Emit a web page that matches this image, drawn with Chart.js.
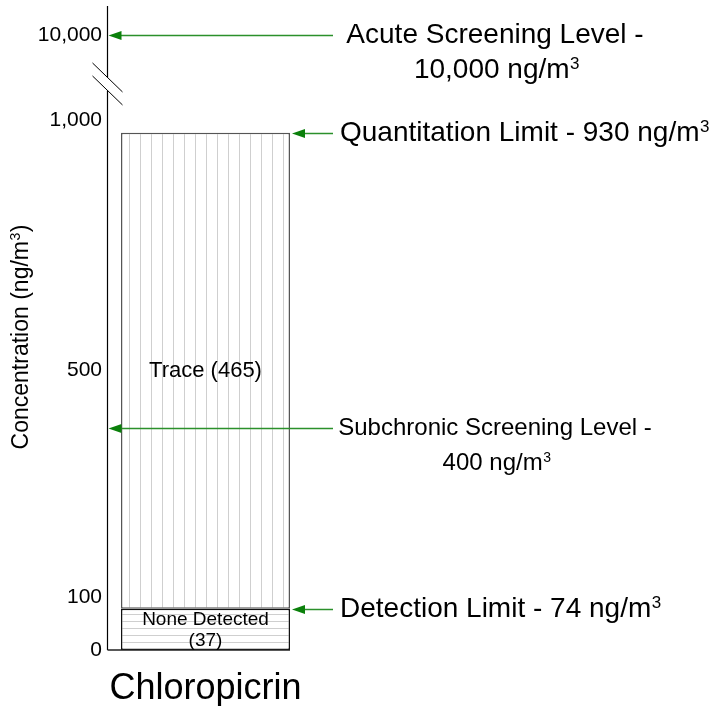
<!DOCTYPE html>
<html><head><meta charset="utf-8">
<script src="https://cdn.jsdelivr.net/npm/chart.js@4.4.1/dist/chart.umd.min.js"></script>
<style>html,body{margin:0;padding:0;background:#fff}#wrap{width:712px;height:706px}</style>
</head><body><div id="wrap"><canvas id="c" width="712" height="706"></canvas></div>
<script>
// ---- data ----
const categories = ['Chloropicrin'];
const segmentNames = ['None Detected', 'Trace'];
const segmentCounts = [37, 465];
const segmentRanges = [[0, 74], [74, 930]];           // ng/m3
const yTickLabels = ['0', '100', '500', '1,000', '10,000'];
const yTickValues = [0, 95, 503, 953, 1106];          // where labels sit on the schematic (broken) axis
const axisMax = 1158;
const yAxisTitle = ['Concentration (ng/m', '3', ')'];
const levelNames = ['Acute Screening Level', 'Quantitation Limit', 'Subchronic Screening Level', 'Detection Limit'];
const levelValues = [10000, 930, 400, 74];

const FONT = "'Liberation Sans', Arial, Helvetica, sans-serif";

function axisValue(v) {
  if (v > 1000) {
    const i = yTickLabels.indexOf(v.toLocaleString('en-US'));
    return yTickValues[i];
  }
  return v;
}

function makePattern(vertical) {
  const c = document.createElement('canvas');
  const p = c.getContext('2d');
  if (vertical) {
    c.width = 11; c.height = 11;
    p.fillStyle = '#fff'; p.fillRect(0, 0, 11, 11);
    p.fillStyle = '#cfcfcf'; p.fillRect(8, 0, 1, 11);
  } else {
    c.width = 7; c.height = 7;
    p.fillStyle = '#fff'; p.fillRect(0, 0, 7, 7);
    p.fillStyle = '#cfcfcf'; p.fillRect(0, 5, 7, 1);
  }
  return document.getElementById('c').getContext('2d').createPattern(c, 'repeat');
}

// draw "main" + superscript "sup" + optional "tail"
function drawSup(ctx, main, sup, x, y, size, align, tail) {
  tail = tail || '';
  const s2 = Math.round(size * 0.6);
  ctx.font = size + 'px ' + FONT;
  const w1 = ctx.measureText(main).width;
  const w3 = ctx.measureText(tail).width;
  ctx.font = s2 + 'px ' + FONT;
  const w2 = ctx.measureText(sup).width + 1;
  const total = w1 + w2 + w3;
  let x0 = x;
  if (align === 'center') x0 = x - total / 2;
  else if (align === 'right') x0 = x - total;
  ctx.textAlign = 'left';
  ctx.textBaseline = 'middle';
  ctx.font = size + 'px ' + FONT;
  ctx.fillText(main, x0, y);
  if (tail) ctx.fillText(tail, x0 + w1 + w2, y);
  ctx.font = s2 + 'px ' + FONT;
  ctx.fillText(sup, x0 + w1 + 0.5, y - size * 0.22);
}

const overlay = {
  id: 'overlay',
  afterDatasetsDraw(chart) {
    const { ctx, chartArea: a, scales: { y } } = chart;
    const axX = Math.round(y.right) + 0.5;
    const barMeta = chart.getDatasetMeta(1).data[0];
    const barR = barMeta.x + barMeta.width / 2;
    ctx.save();
    // y axis with break
    const brk = (y.getPixelForValue(yTickValues[3]) + y.getPixelForValue(yTickValues[4])) / 2 + 6.5;
    ctx.strokeStyle = '#000'; ctx.lineWidth = 1.2;
    ctx.beginPath();
    ctx.moveTo(axX, a.top); ctx.lineTo(axX, brk - 6.5);
    ctx.moveTo(axX, brk + 6.5); ctx.lineTo(axX, a.bottom);
    ctx.stroke();
    ctx.lineWidth = 1;
    ctx.beginPath();
    [-6.5, 6.5].forEach(o => {
      ctx.moveTo(axX - 15, brk + o - 14.5);
      ctx.lineTo(axX + 15, brk + o + 14.5);
    });
    ctx.stroke();
    // x axis baseline
    ctx.lineWidth = 1.5; ctx.strokeStyle = '#222';
    ctx.beginPath();
    ctx.moveTo(axX, a.bottom); ctx.lineTo(barR, a.bottom);
    ctx.stroke();

    // y axis title (rotated, with superscript)
    ctx.save();
    ctx.translate(21.5, (a.top + a.bottom) / 2 + 9);
    ctx.rotate(-Math.PI / 2);
    ctx.fillStyle = '#000';
    drawSup(ctx, yAxisTitle[0], yAxisTitle[1], 0, 0, 23, 'center', yAxisTitle[2]);
    ctx.restore();

    // segment labels
    ctx.fillStyle = '#000'; ctx.textAlign = 'center'; ctx.textBaseline = 'middle';
    segmentNames.forEach((n, i) => {
      const r = segmentRanges[i];
      const cy = y.getPixelForValue((r[0] + r[1]) / 2);
      const cx = barMeta.x;
      if (i === 0) {
        ctx.font = '19px ' + FONT;
        ctx.fillText(n, cx, cy - 10);
        ctx.fillText('(' + segmentCounts[i] + ')', cx, cy + 11);
      } else {
        ctx.font = '22px ' + FONT;
        ctx.fillText(n + ' (' + segmentCounts[i] + ')', cx, cy);
      }
    });

    // reference levels
    levelNames.forEach((n, i) => {
      const v = levelValues[i];
      const py = Math.round(y.getPixelForValue(axisValue(v))) + 0.5;
      const screening = n.indexOf('Screening') >= 0;
      const tipX = screening ? axX + 1 : barR + 2;
      const lineEnd = 333;
      ctx.strokeStyle = '#2b902b'; ctx.lineWidth = 1.5;
      ctx.beginPath(); ctx.moveTo(tipX + 10, py); ctx.lineTo(lineEnd, py); ctx.stroke();
      ctx.fillStyle = '#0b800b';
      ctx.beginPath();
      ctx.moveTo(tipX, py); ctx.lineTo(tipX + 13, py - 4.5); ctx.lineTo(tipX + 13, py + 4.5);
      ctx.closePath(); ctx.fill();
      ctx.fillStyle = '#000';
      const valTxt = v.toLocaleString('en-US') + ' ng/m';
      if (screening) {
        const size = n.length > 22 ? 24 : 28;
        ctx.font = size + 'px ' + FONT;
        ctx.textAlign = 'center'; ctx.textBaseline = 'middle';
        ctx.fillText(n + ' -', 495, py);
        drawSup(ctx, valTxt, '3', 497, py + 35, size, 'center');
      } else {
        drawSup(ctx, n + ' - ' + valTxt, '3', 340, py, 28, 'left');
      }
    });
    ctx.restore();
  }
};

const ctx = document.getElementById('c').getContext('2d');
new Chart(ctx, {
  type: 'bar',
  data: {
    labels: categories,
    datasets: segmentNames.map((n, i) => ({
      label: n,
      data: [segmentRanges[i]],
      backgroundColor: makePattern(i === 1),
      borderColor: i === 0 ? '#111' : '#555',
      borderWidth: 1.5,
      borderSkipped: false,
      grouped: false,
      barPercentage: 0.858,
      categoryPercentage: 1
    }))
  },
  options: {
    responsive: false,
    animation: false,
    devicePixelRatio: 1,
    layout: { padding: { top: 6, right: 408, left: 0, bottom: 0 } },
    plugins: { legend: { display: false }, tooltip: { enabled: false } },
    scales: {
      x: {
        grid: { display: false, drawTicks: false },
        border: { display: false },
        ticks: { font: { size: 36, family: FONT }, color: '#000', padding: 17, maxRotation: 0, minRotation: 0 },
        afterFit(s) { s.height = 56; s.paddingLeft = 0; s.paddingRight = 0; }
      },
      y: {
        min: 0, max: axisMax,
        grid: { display: false, drawTicks: false },
        border: { display: false },
        afterBuildTicks(s) { s.ticks = yTickValues.map(v => ({ value: v })); },
        ticks: {
          font: { size: 21, family: FONT }, color: '#000', padding: 5, autoSkip: false,
          callback: (v, i) => yTickLabels[i]
        },
        title: { display: false },
        afterFit(s) { s.width = 107; s.paddingTop = 0; s.paddingBottom = 0; }
      }
    }
  },
  plugins: [overlay]
});
</script>
</body></html>
